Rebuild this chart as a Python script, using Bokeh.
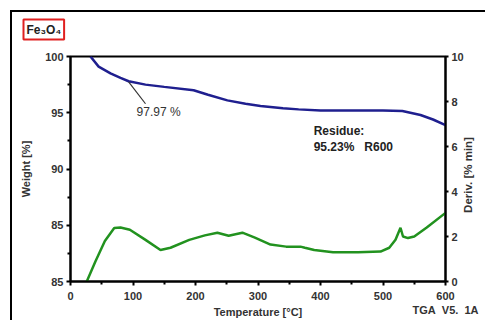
import numpy as np
from bokeh.plotting import figure
from bokeh.models import (Range1d, LinearAxis, FixedTicker, Label, Title, ColumnDataSource)
from bokeh.embed import file_html
from bokeh.resources import INLINE
import math

NB = "\u00a0"

# ---- data ----
temp_w = [32, 45, 64, 80, 93, 120, 150, 197, 220, 251, 280, 304, 340, 365, 400, 450, 500, 531, 560, 580, 600]
weight = [100, 99.1, 98.5, 98.1, 97.8, 97.5, 97.3, 97.0, 96.6, 96.1, 95.8, 95.6, 95.4, 95.3, 95.2, 95.2, 95.2, 95.15, 94.8, 94.4, 93.9]

temp_d = [26, 40, 55, 70, 80, 95, 120, 144, 160, 190, 215, 235, 253, 275, 295, 320, 345, 368, 375, 390, 420, 460, 496, 510, 520, 528, 532, 540, 550, 570, 600]
deriv = [0, 0.9, 1.8, 2.38, 2.4, 2.3, 1.85, 1.4, 1.5, 1.85, 2.05, 2.17, 2.03, 2.17, 1.95, 1.64, 1.55, 1.55, 1.5, 1.4, 1.3, 1.3, 1.33, 1.5, 1.86, 2.39, 2.0, 1.93, 2.0, 2.4, 3.05]

x_ticks = [0, 100, 200, 300, 400, 500, 600]
x_tick_labels = {600: "600\nTGA" + NB * 2 + "V5." + NB * 2 + "1A"}
w_ticks = [80, 85, 90, 95, 100]
w_tick_labels = {80: "85", 85: "85", 90: "90", 95: "95", 100: "100"}
d_ticks = [0, 2, 4, 6, 8, 10]
d_title = "Deriv. [%" + NB + "min]"
d_title_anchor = 3.05

FONT = "Liberation Sans"
TXT = "#333333"

p = figure(width=485, height=320, output_backend="svg", toolbar_location=None,
           x_range=Range1d(0, 600), y_range=Range1d(80, 100),
           min_border_left=70, min_border_right=40, min_border_top=56, min_border_bottom=38)
p.extra_y_ranges = {"d": Range1d(0, 10)}
p.grid.visible = False
p.outline_line_color = "black"
p.outline_line_width = 2
p.background_fill_color = "white"
p.border_fill_color = None
p.styles = {
    "background": "linear-gradient(#000,#000) 10px 10px / 480px 2px no-repeat, "
                  "linear-gradient(#000,#000) 10px 10px / 2px 315px no-repeat, #fff"
}

def style_axis(ax):
    ax.axis_line_color = "black"
    ax.axis_line_width = 2
    ax.major_tick_line_color = "black"
    ax.major_tick_line_width = 2
    ax.minor_tick_line_color = "black"
    ax.minor_tick_line_width = 2
    ax.major_tick_out = 4
    ax.major_tick_in = 0
    ax.minor_tick_out = 3
    ax.minor_tick_in = 0
    ax.major_label_text_font = FONT
    ax.major_label_text_font_size = "11px"
    ax.major_label_text_font_style = "bold"
    ax.major_label_text_color = TXT
    ax.axis_label_text_font = FONT
    ax.axis_label_text_font_size = "11px"
    ax.axis_label_text_font_style = "bold"
    ax.axis_label_text_color = TXT

xa = p.xaxis[0]
style_axis(xa)
xa.ticker = FixedTicker(ticks=x_ticks, minor_ticks=[50, 150, 250, 350, 450, 550])
xa.major_label_overrides = x_tick_labels
xa.axis_label = "Temperature [°C]"
xa.major_label_standoff = 4
xa.axis_label_standoff = -13

ya = p.yaxis[0]
style_axis(ya)
ya.ticker = FixedTicker(ticks=w_ticks, minor_ticks=[82.5, 87.5, 92.5, 97.5])
ya.major_label_overrides = w_tick_labels
ya.axis_label = "Weight [%]"
ya.major_label_standoff = 3
ya.axis_label_standoff = 10

ra = LinearAxis(y_range_name="d", ticker=FixedTicker(ticks=d_ticks))
style_axis(ra)
ra.major_label_standoff = 3
ra.major_tick_out = 3
p.add_layout(ra, "right")

# right axis title, drawn as a rotated label of a bare axis (reads bottom to top)
ra2 = LinearAxis(y_range_name="d", ticker=FixedTicker(ticks=[d_title_anchor]))
style_axis(ra2)
ra2.axis_line_color = None
ra2.major_tick_line_color = None
ra2.minor_tick_line_color = None
ra2.major_tick_out = 0
ra2.minor_tick_out = 0
ra2.major_label_standoff = 1
ra2.major_label_text_font_size = "11.5px"
ra2.major_label_orientation = math.pi / 2
ra2.major_label_overrides = {d_title_anchor: d_title}
p.add_layout(ra2, "right")

# sample name
p.title = Title(text="Fe₃O₄", align="left", offset=-47, standoff=30, vertical_align="top",
                text_font=FONT, text_font_size="12px", text_font_style="bold",
                text_color="#222222", border_line_color="#e02020", border_line_width=2,
                padding=3)

src_w = ColumnDataSource(dict(t=temp_w, w=weight))
src_d = ColumnDataSource(dict(t=temp_d, d=deriv))
p.line("t", "w", source=src_w, line_color="#1f1f8f", line_width=2.5)
p.line("t", "d", source=src_d, y_range_name="d", line_color="#22921f", line_width=2.5)

# annotation leader line
p.segment(x0=[93], y0=[97.75], x1=[120], y1=[95.8], line_color="#333333", line_width=1.2)

p.add_layout(Label(x=141, y=95.05, text="97.97 %", text_align="center", text_baseline="middle",
                   text_font=FONT, text_font_size="12px", text_color=TXT))
p.add_layout(Label(x=389, y=93.36, text="Residue:", text_align="left", text_baseline="middle",
                   text_font=FONT, text_font_size="12px", text_font_style="bold", text_color="#222222"))
p.add_layout(Label(x=389, y=91.95, text="95.23%" + NB * 3 + "R600", text_align="left", text_baseline="middle",
                   text_font=FONT, text_font_size="12px", text_font_style="bold", text_color="#222222"))

open("out.html", "w").write(file_html(p, INLINE))
